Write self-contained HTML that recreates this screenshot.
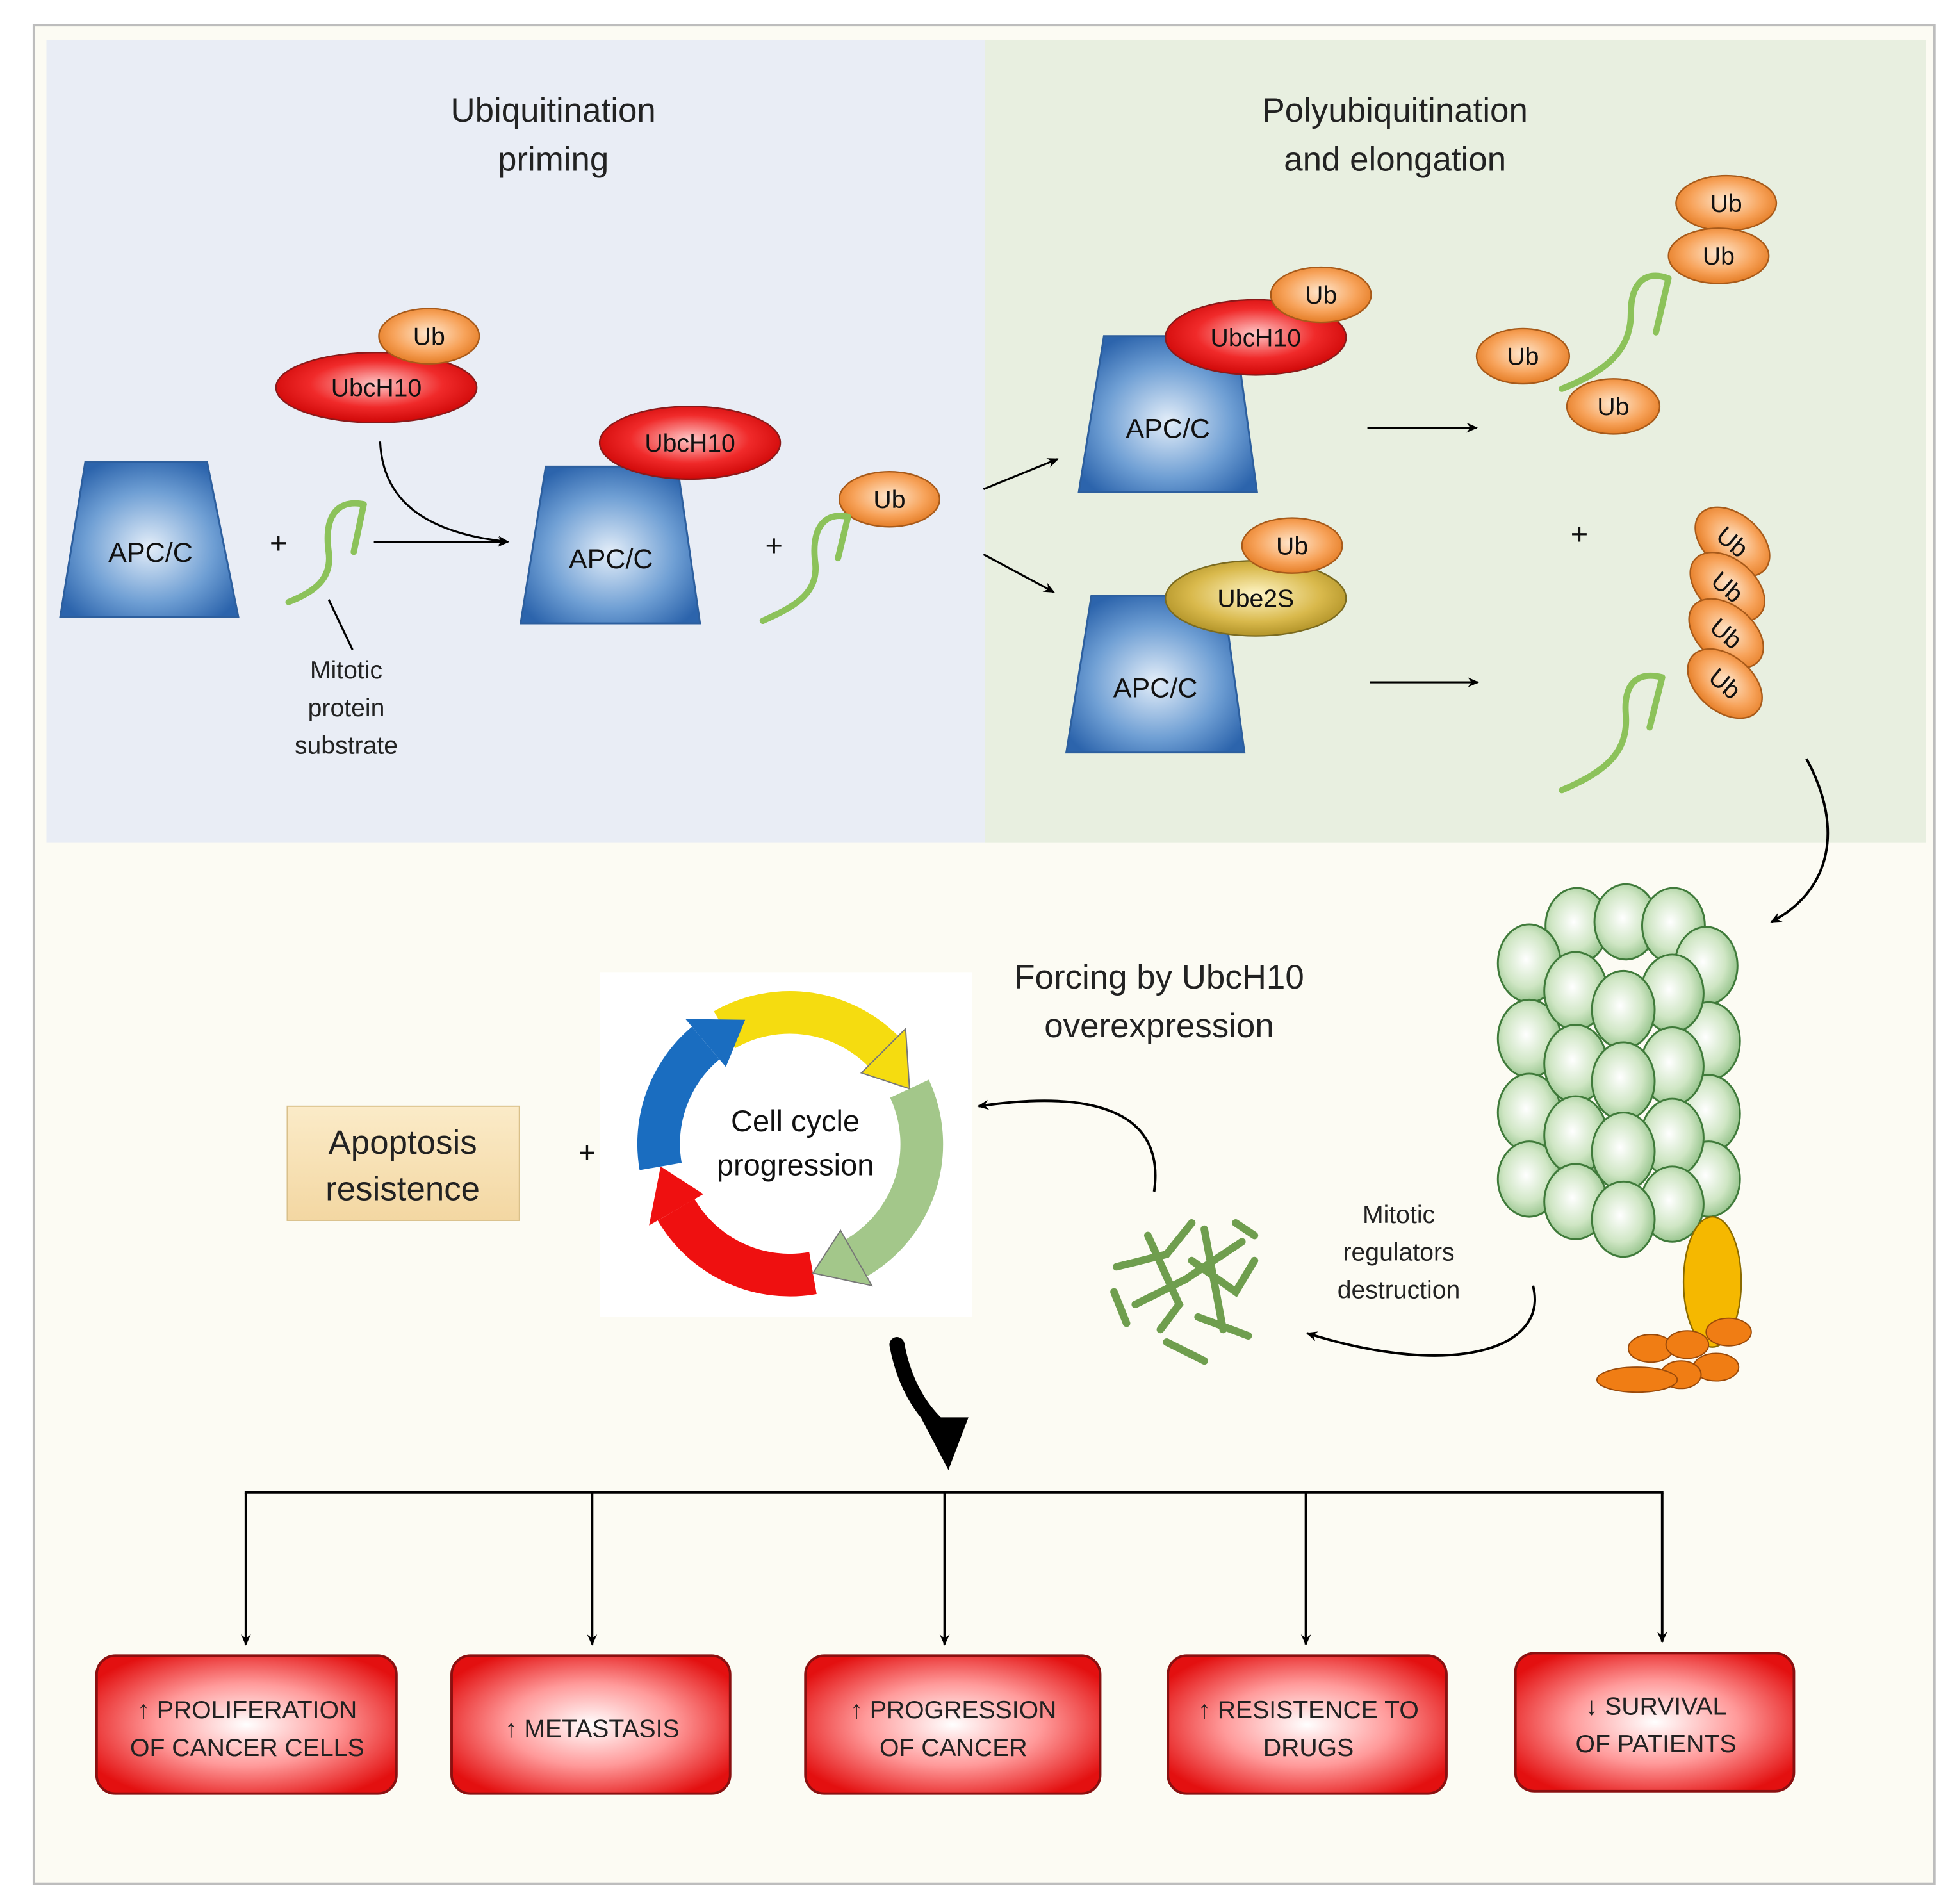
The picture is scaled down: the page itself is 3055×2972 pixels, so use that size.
<!DOCTYPE html>
<html><head><meta charset="utf-8"><style>
html,body{margin:0;padding:0;background:#fff}
svg{display:block}
text{font-family:"Liberation Sans",sans-serif}
</style></head><body>
<svg width="3055" height="2972" viewBox="0 0 1560 1518" preserveAspectRatio="none" xmlns="http://www.w3.org/2000/svg">
<defs>
<linearGradient id="apc" x1="0" y1="0" x2="0" y2="1">
<stop offset="0" stop-color="#2f6db5"/><stop offset="0.5" stop-color="#c9dcf0"/><stop offset="1" stop-color="#2f6db5"/></linearGradient>
<radialGradient id="apcR" cx="0.5" cy="0.55" r="0.6"><stop offset="0" stop-color="#e4eef9"/><stop offset="0.6" stop-color="#6f9fd4"/><stop offset="1" stop-color="#2c64ac"/></radialGradient>
<radialGradient id="red" cx="0.5" cy="0.45" r="0.6"><stop offset="0" stop-color="#ffc8c8"/><stop offset="0.55" stop-color="#f02a2a"/><stop offset="1" stop-color="#c80000"/></radialGradient>
<radialGradient id="org" cx="0.5" cy="0.45" r="0.6"><stop offset="0" stop-color="#ffe8cf"/><stop offset="0.6" stop-color="#f7a259"/><stop offset="1" stop-color="#e0741a"/></radialGradient>
<radialGradient id="gold" cx="0.5" cy="0.45" r="0.6"><stop offset="0" stop-color="#fff6c8"/><stop offset="0.6" stop-color="#d9b94c"/><stop offset="1" stop-color="#a88a20"/></radialGradient>
<radialGradient id="sph" cx="0.45" cy="0.45" r="0.6"><stop offset="0" stop-color="#ffffff"/><stop offset="0.6" stop-color="#cfe6c4"/><stop offset="1" stop-color="#8fbf85"/></radialGradient>
<radialGradient id="box" cx="0.5" cy="0.5" r="0.6"><stop offset="0" stop-color="#ffffff"/><stop offset="0.5" stop-color="#ff9a9a"/><stop offset="1" stop-color="#e31010"/></radialGradient>
<linearGradient id="apo" x1="0" y1="0" x2="0" y2="1"><stop offset="0" stop-color="#fbebc8"/><stop offset="1" stop-color="#f3d7a2"/></linearGradient>
<marker id="ah" markerWidth="10" markerHeight="10" refX="8" refY="5" orient="auto" markerUnits="userSpaceOnUse"><path d="M0,1 L9,5 L0,9 L3,5z" fill="#000"/></marker>
</defs>
<rect x="0" y="0" width="1560" height="1518" fill="#fff"/>
<rect x="27" y="20" width="1515" height="1482" fill="#fcfbf3" stroke="#bdbdbd" stroke-width="2"/>
<rect x="37" y="32" width="748" height="640" fill="#e9edf5"/>
<rect x="785" y="32" width="750" height="640" fill="#e8efe0"/>

<g font-size="27" fill="#222" text-anchor="middle">
<text x="441" y="97">Ubiquitination</text><text x="441" y="136">priming</text>
<text x="1112" y="97">Polyubiquitination</text><text x="1112" y="136">and elongation</text>
<text x="924" y="788">Forcing by UbcH10</text><text x="924" y="827">overexpression</text>
</g>

<!-- APC/C trapezoids -->
<g stroke="#2d5f9e" stroke-width="1.5" fill="url(#apcR)">
<polygon points="68,368 165,368 190,492 48,492"/>
<polygon points="435,372 540,372 558,497 415,497"/>
<polygon points="880,268 985,268 1002,392 860,392"/>
<polygon points="870,475 975,475 992,600 850,600"/>
</g>
<g font-size="22" fill="#111" text-anchor="middle">
<text x="120" y="448">APC/C</text><text x="487" y="453">APC/C</text>
<text x="931" y="349">APC/C</text><text x="921" y="556">APC/C</text>
</g>

<!-- enzymes -->
<g stroke="#8a1a1a" stroke-width="1.2">
<ellipse cx="300" cy="309" rx="80" ry="28" fill="url(#red)"/>
<ellipse cx="550" cy="353" rx="72" ry="29" fill="url(#red)"/>
<ellipse cx="1001" cy="269" rx="72" ry="30" fill="url(#red)"/>
</g>
<ellipse cx="1001" cy="477" rx="72" ry="30" fill="url(#gold)" stroke="#7a6a20" stroke-width="1.2"/>
<g stroke="#a75a1a" stroke-width="1.2" fill="url(#org)">
<ellipse cx="342" cy="268" rx="40" ry="22"/>
<ellipse cx="709" cy="398" rx="40" ry="22"/>
<ellipse cx="1053" cy="235" rx="40" ry="22"/>
<ellipse cx="1030" cy="435" rx="40" ry="22"/>
<ellipse cx="1376" cy="162" rx="40" ry="22"/>
<ellipse cx="1370" cy="204" rx="40" ry="22"/>
<ellipse cx="1214" cy="284" rx="37" ry="22"/>
<ellipse cx="1286" cy="324" rx="37" ry="22"/>
<ellipse cx="1381" cy="432" rx="34" ry="22" transform="rotate(40 1381 432)"/>
<ellipse cx="1377" cy="468" rx="34" ry="22" transform="rotate(40 1377 468)"/>
<ellipse cx="1376" cy="505" rx="34" ry="22" transform="rotate(40 1376 505)"/>
<ellipse cx="1375" cy="545" rx="34" ry="22" transform="rotate(40 1375 545)"/>
</g>
<g font-size="20" fill="#111" text-anchor="middle">
<text x="300" y="316">UbcH10</text><text x="550" y="360">UbcH10</text><text x="1001" y="276">UbcH10</text>
<text x="1001" y="484">Ube2S</text>
<text x="342" y="275">Ub</text><text x="709" y="405">Ub</text><text x="1053" y="242">Ub</text><text x="1030" y="442">Ub</text>
<text x="1376" y="169">Ub</text><text x="1370" y="211">Ub</text><text x="1214" y="291">Ub</text><text x="1286" y="331">Ub</text>
<text x="1381" y="439" transform="rotate(40 1381 432)">Ub</text>
<text x="1377" y="475" transform="rotate(40 1377 468)">Ub</text>
<text x="1376" y="512" transform="rotate(40 1376 505)">Ub</text>
<text x="1375" y="552" transform="rotate(40 1375 545)">Ub</text>
</g>

<!-- substrates -->
<g fill="none" stroke="#8cc25a" stroke-width="5" stroke-linecap="round" stroke-linejoin="round">
<path d="M230,480 C250,472 265,462 262,440 C258,410 270,398 290,402 L282,440"/>
<path d="M608,495 C630,485 652,475 650,450 C646,420 658,408 676,412 L668,445"/>
<path d="M1245,310 C1280,296 1300,280 1300,250 C1300,225 1312,215 1330,222 L1320,265"/>
<path d="M1245,630 C1280,615 1298,600 1296,570 C1294,545 1305,535 1325,540 L1315,580"/>
</g>

<!-- connectors top -->
<g stroke="#000" stroke-width="1.6" fill="none">
<line x1="298" y1="432" x2="405" y2="432" marker-end="url(#ah)"/>
<path d="M303,352 C305,400 340,425 405,432" marker-end="url(#ah)"/>
<line x1="262" y1="478" x2="281" y2="518"/>
<line x1="784" y1="390" x2="843" y2="366" marker-end="url(#ah)"/>
<line x1="784" y1="442" x2="840" y2="472" marker-end="url(#ah)"/>
<line x1="1090" y1="341" x2="1177" y2="341" marker-end="url(#ah)"/>
<line x1="1092" y1="544" x2="1178" y2="544" marker-end="url(#ah)"/>
<path d="M1440,605 C1470,660 1460,710 1412,735" stroke-width="2" marker-end="url(#ah)"/>
<path d="M920,950 C930,880 860,870 780,882" stroke-width="2" marker-end="url(#ah)"/>
<path d="M1222,1025 C1235,1075 1160,1100 1042,1063" stroke-width="2" marker-end="url(#ah)"/>
</g>
<g font-size="24" fill="#111" text-anchor="middle">
<text x="222" y="441">+</text><text x="617" y="443">+</text><text x="1259" y="434">+</text><text x="468" y="927">+</text>
</g>
<g font-size="20" fill="#222" text-anchor="middle">
<text x="276" y="541">Mitotic</text><text x="276" y="571">protein</text><text x="276" y="601">substrate</text>
<text x="1115" y="975">Mitotic</text><text x="1115" y="1005">regulators</text><text x="1115" y="1035">destruction</text>
</g>

<!-- proteasome -->
<g stroke="#3f7a3a" stroke-width="1.5" fill="url(#sph)">
<ellipse cx="1257" cy="738" rx="25" ry="30"/><ellipse cx="1296" cy="735" rx="25" ry="30"/><ellipse cx="1334" cy="738" rx="25" ry="30"/>
<ellipse cx="1219" cy="768" rx="25" ry="31"/><ellipse cx="1360" cy="770" rx="25" ry="31"/>
<ellipse cx="1219" cy="828" rx="25" ry="31"/><ellipse cx="1362" cy="830" rx="25" ry="31"/>
<ellipse cx="1219" cy="887" rx="25" ry="31"/><ellipse cx="1362" cy="888" rx="25" ry="31"/>
<ellipse cx="1219" cy="940" rx="25" ry="30"/><ellipse cx="1362" cy="940" rx="25" ry="30"/>
<ellipse cx="1256" cy="790" rx="25" ry="31"/><ellipse cx="1333" cy="792" rx="25" ry="31"/>
<ellipse cx="1256" cy="848" rx="25" ry="31"/><ellipse cx="1333" cy="850" rx="25" ry="31"/>
<ellipse cx="1256" cy="905" rx="25" ry="31"/><ellipse cx="1333" cy="907" rx="25" ry="31"/>
<ellipse cx="1256" cy="958" rx="25" ry="30"/><ellipse cx="1333" cy="960" rx="25" ry="30"/>
<ellipse cx="1294" cy="805" rx="25" ry="31"/><ellipse cx="1294" cy="862" rx="25" ry="31"/>
<ellipse cx="1294" cy="918" rx="25" ry="31"/><ellipse cx="1294" cy="972" rx="25" ry="30"/>
</g>
<ellipse cx="1365" cy="1022" rx="23" ry="52" fill="#f5b800" stroke="#8a6a00" stroke-width="1.2"/>
<g fill="#f07d14" stroke="#9a4a0a" stroke-width="1">
<ellipse cx="1378" cy="1062" rx="18" ry="11"/><ellipse cx="1316" cy="1075" rx="18" ry="11"/><ellipse cx="1345" cy="1072" rx="17" ry="11"/>
<ellipse cx="1368" cy="1090" rx="18" ry="11"/><ellipse cx="1340" cy="1096" rx="16" ry="11"/><ellipse cx="1305" cy="1100" rx="32" ry="10"/>
</g>

<!-- mitotic regulators clump -->
<g stroke="#6f9e4e" stroke-width="6" stroke-linecap="round" fill="none">
<path d="M890,1010 L930,1000 L950,975 M915,985 L940,1040 L925,1060 M950,1005 L985,1030 L1000,1005 M960,980 L975,1060 M905,1040 L945,1020 L990,990 M955,1050 L995,1065 M888,1030 L898,1055 M930,1070 L960,1085 M985,975 L1000,985"/>
</g>

<!-- cell cycle -->
<rect x="478" y="775" width="297" height="275" fill="#fff"/>
<g stroke-width="34" fill="none">
<path d="M577.5,821 A105,105 0 0 1 704,838" stroke="#f5dc10"/>
<path d="M725,868 A105,105 0 0 1 682.5,1003" stroke="#a3c78a"/>
<path d="M648,1015 A105,105 0 0 1 539,964.5" stroke="#ef1010"/>
<path d="M526.6,930 A105,105 0 0 1 562.5,831.6" stroke="#1a6dc0"/>
</g>
<polygon points="686.6,855.4 721.9,820.1 725,868" fill="#f5dc10" stroke="#777" stroke-width="1"/>
<polygon points="670,981 695,1025 648,1015" fill="#a3c78a" stroke="#777" stroke-width="1"/>
<polygon points="560.7,952 517.4,977 526.6,930" fill="#ef1010"/>
<polygon points="578.6,850.7 546.4,812.4 594,813" fill="#1a6dc0"/>
<g font-size="24" fill="#111" text-anchor="middle"><text x="634" y="902">Cell cycle</text><text x="634" y="937">progression</text></g>

<!-- apoptosis -->
<rect x="229" y="882" width="185" height="91" fill="url(#apo)" stroke="#d9c08a" stroke-width="1"/>
<g font-size="27" fill="#222" text-anchor="middle"><text x="321" y="920">Apoptosis</text><text x="321" y="957">resistence</text></g>

<!-- big arrow -->
<path d="M715,1072 C722,1110 740,1130 752,1140" stroke="#000" stroke-width="12" fill="none" stroke-linecap="round"/>
<polygon points="734,1130 772,1130 756,1172" fill="#000"/>

<!-- tree -->
<g stroke="#000" stroke-width="2" fill="none">
<line x1="195" y1="1190" x2="1326" y2="1190"/>
<line x1="196" y1="1190" x2="196" y2="1311" marker-end="url(#ah)"/>
<line x1="472" y1="1190" x2="472" y2="1311" marker-end="url(#ah)"/>
<line x1="753" y1="1190" x2="753" y2="1311" marker-end="url(#ah)"/>
<line x1="1041" y1="1190" x2="1041" y2="1311" marker-end="url(#ah)"/>
<line x1="1325" y1="1190" x2="1325" y2="1309" marker-end="url(#ah)"/>
</g>
<g stroke="#8a1010" stroke-width="2" fill="url(#box)">
<rect x="77" y="1320" width="239" height="110" rx="15"/>
<rect x="360" y="1320" width="222" height="110" rx="15"/>
<rect x="642" y="1320" width="235" height="110" rx="15"/>
<rect x="931" y="1320" width="222" height="110" rx="15"/>
<rect x="1208" y="1318" width="222" height="110" rx="15"/>
</g>
<g font-size="20" fill="#222" text-anchor="middle">
<text x="197" y="1370">↑ PROLIFERATION</text><text x="197" y="1400">OF CANCER CELLS</text>
<text x="472" y="1385">↑ METASTASIS</text>
<text x="760" y="1370">↑ PROGRESSION</text><text x="760" y="1400">OF CANCER</text>
<text x="1043" y="1370">↑ RESISTENCE TO</text><text x="1043" y="1400">DRUGS</text>
<text x="1320" y="1367">↓ SURVIVAL</text><text x="1320" y="1397">OF PATIENTS</text>
</g>
</svg>
</body></html>
